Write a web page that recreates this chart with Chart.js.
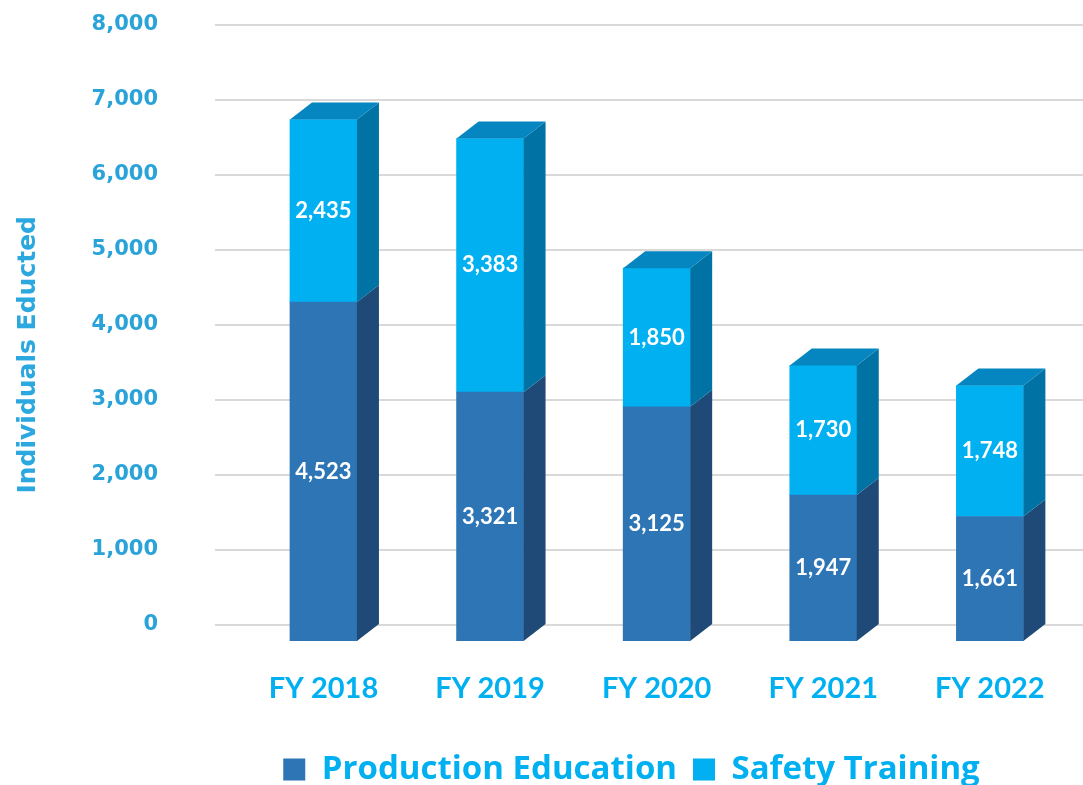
<!DOCTYPE html>
<html lang="en">
<head>
    <meta charset="UTF-8">
    <title>Individuals Educated</title>
    <script src="https://cdn.jsdelivr.net/npm/chart.js"></script>
    <style>
        body {
            margin: 0;
            background-color: #ffffff;
        }
        #chartBox {
            width: 1083px;
            height: 785px;
        }
    </style>
</head>
<body>

<div id="chartBox">
    <canvas id="eduChart" width="1083" height="785"></canvas>
</div>

<script>
    // Data
    const years = ['FY 2018', 'FY 2019', 'FY 2020', 'FY 2021', 'FY 2022'];
    const production = [4523, 3321, 3125, 1947, 1661];
    const safety = [2435, 3383, 1850, 1730, 1748];
    const yTicks = [0, 1000, 2000, 3000, 4000, 5000, 6000, 7000, 8000];

    // 3D look: front face offset from the back wall
    const depthX = 22;
    const depthY = 17;
    const wallShift = 220; // back wall sits this many units above the front face

    const sideColors = ['#1f4a78', '#0072a3'];
    const topColor = '#0586c0';

    const fmt = v => v.toLocaleString('en-US');

    // draws side and top faces plus the white value labels
    const bar3d = {
        id: 'bar3d',
        afterLayout(chart) {
            // legend sits a little left of the plot centre
            chart.legend.left -= 35;
        },
        afterDatasetsDraw(chart) {
            const ctx = chart.ctx;
            const last = chart.data.datasets.length - 1;
            ctx.save();
            chart.data.datasets.forEach((ds, di) => {
                const meta = chart.getDatasetMeta(di);
                meta.data.forEach(bar => {
                    const p = bar.getProps(['x', 'y', 'base', 'width'], true);
                    const left = p.x - p.width / 2;
                    const right = p.x + p.width / 2;
                    ctx.fillStyle = sideColors[di];
                    ctx.beginPath();
                    ctx.moveTo(right, p.y);
                    ctx.lineTo(right + depthX, p.y - depthY);
                    ctx.lineTo(right + depthX, p.base - depthY);
                    ctx.lineTo(right, p.base);
                    ctx.closePath();
                    ctx.fill();
                    if (di === last) {
                        ctx.fillStyle = topColor;
                        ctx.beginPath();
                        ctx.moveTo(left, p.y);
                        ctx.lineTo(left + depthX, p.y - depthY);
                        ctx.lineTo(right + depthX, p.y - depthY);
                        ctx.lineTo(right, p.y);
                        ctx.closePath();
                        ctx.fill();
                    }
                });
            });
            // value labels
            ctx.fillStyle = '#ffffff';
            ctx.font = 'bold 22px Lato';
            ctx.textAlign = 'center';
            ctx.textBaseline = 'middle';
            chart.data.datasets.forEach((ds, di) => {
                const meta = chart.getDatasetMeta(di);
                meta.data.forEach((bar, i) => {
                    const p = bar.getProps(['x', 'y', 'base'], true);
                    ctx.fillText(fmt(ds.data[i].y), p.x, (p.y + p.base) / 2);
                });
            });
            ctx.restore();
        }
    };

    const ctx = document.getElementById('eduChart').getContext('2d');
    new Chart(ctx, {
        type: 'bar',
        data: {
            datasets: [{
                label: 'Production Education',
                data: production.map((v, i) => ({ x: i, y: v })),
                backgroundColor: '#2e75b6',
                yAxisID: 'y'
            }, {
                label: 'Safety Training',
                data: safety.map((v, i) => ({ x: i, y: v })),
                backgroundColor: '#00b0f0',
                yAxisID: 'y'
            }]
        },
        options: {
            responsive: false,
            animation: false,
            devicePixelRatio: 1,
            barThickness: 67,
            layout: {
                padding: { top: 25, right: 0, bottom: -11, left: 0 }
            },
            scales: {
                x: {
                    type: 'linear',
                    stacked: true,
                    offset: false,
                    min: -0.651,
                    max: 4.559,
                    grid: { display: false, drawTicks: false, offset: false },
                    border: { display: false },
                    afterBuildTicks: scale => {
                        scale.ticks = years.map((_, i) => ({ value: i }));
                    },
                    afterFit: scale => { scale.height = 96; },
                    ticks: {
                        autoSkip: false,
                        maxRotation: 0,
                        padding: 30,
                        color: '#00b0f0',
                        font: { family: 'Lato', size: 29, weight: 'bold' },
                        callback: v => years[v]
                    }
                },
                y: {
                    stacked: true,
                    display: false,
                    min: 0,
                    max: 8000 + wallShift
                },
                yb: {
                    position: 'left',
                    min: -wallShift,
                    max: 8000,
                    afterBuildTicks: scale => {
                        scale.ticks = yTicks.map(v => ({ value: v }));
                    },
                    afterFit: scale => { scale.width = 215; },
                    grid: {
                        color: '#d9d9d9',
                        lineWidth: 2,
                        drawTicks: true,
                        tickLength: 57,
                        tickColor: 'rgba(0,0,0,0)'
                    },
                    border: { display: false },
                    ticks: {
                        padding: 0,
                        color: '#2aa3d8',
                        font: { family: 'DejaVu Sans', size: 21, weight: 'bold' },
                        callback: v => fmt(v)
                    },
                    title: {
                        display: true,
                        text: 'Individuals Educted     ',
                        color: '#2aa8df',
                        padding: { top: 13, bottom: 0 },
                        font: { family: 'DejaVu Sans', size: 25, weight: 'bold' }
                    }
                }
            },
            plugins: {
                legend: {
                    position: 'bottom',
                    fullSize: false,
                    labels: {
                        boxWidth: 22,
                        boxHeight: 22,
                        padding: 16,
                        color: '#00b0f0',
                        font: { family: 'Open Sans', size: 33, weight: 'bold' }
                    }
                },
                tooltip: { enabled: false }
            }
        },
        plugins: [bar3d]
    });
</script>

</body>
</html>
